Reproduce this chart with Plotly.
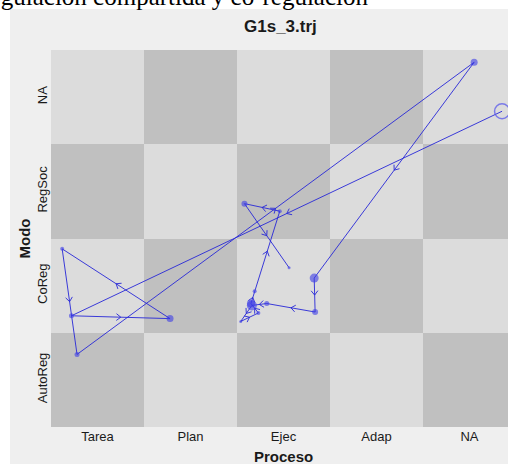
import math
import plotly.graph_objects as go

# Grid categories
procesos = ["Tarea", "Plan", "Ejec", "Adap", "NA"]
modos = ["AutoReg", "CoReg", "RegSoc", "NA"]

# Checkerboard shading of the state space grid (rows: AutoReg -> NA), 1 = dark cell
celdas = [
    [1, 0, 1, 0, 1],
    [0, 1, 0, 1, 0],
    [1, 0, 1, 0, 1],
    [0, 1, 0, 1, 0],
]

# Trajectory: visited states (cell index plus within-cell jitter), in order
tray_x = [5.35, 0.72, 1.78, 0.62, 0.78, 5.05, 3.33, 3.34, 2.82, 2.66, 2.54, 2.73, 2.65, 2.69, 2.96, 2.58, 3.06]
tray_y = [3.85, 1.68, 1.65, 2.39, 1.27, 4.37, 2.08, 1.72, 1.81, 1.79, 1.62, 1.71, 1.81, 1.94, 2.79, 2.87, 2.19]
# Time spent at each visit (drawn as dot diameter)
duracion = [0, 5, 7, 4, 5, 7, 9, 6, 5, 10, 3, 4, 8, 4, 4, 6, 3]

W, H = 508, 464
ML, MR, MT, MB = 51, 0, 50, 37
XR = [0.5, 0.5 + (W - ML - MR) / 93.0]
YR = [0.5, 4.5]
sx = (W - ML - MR) / (XR[1] - XR[0])
sy = (H - MT - MB) / (YR[1] - YR[0])

LINE = "rgba(40,40,215,0.9)"
DOT = "rgba(60,60,230,0.85)"

fig = go.Figure()

fig.add_trace(go.Heatmap(
    z=celdas, x=[1, 2, 3, 4, 5], y=[1, 2, 3, 4],
    colorscale=[[0, "#dcdcdc"], [1, "#c0c0c0"]],
    showscale=False, hoverinfo="skip", zmin=0, zmax=1,
))

# Path
fig.add_trace(go.Scatter(
    x=tray_x, y=tray_y, mode="lines",
    line=dict(color=LINE, width=1), hoverinfo="skip", showlegend=False,
))

# Direction chevrons at segment midpoints
cx, cy = [], []
arm = 5.5
ang = math.radians(38)
for i in range(len(tray_x) - 1):
    mx = (tray_x[i] + tray_x[i + 1]) / 2
    my = (tray_y[i] + tray_y[i + 1]) / 2
    dx = (tray_x[i + 1] - tray_x[i]) * sx
    dy = (tray_y[i + 1] - tray_y[i]) * sy
    n = math.hypot(dx, dy)
    if n == 0:
        continue
    ux, uy = dx / n, dy / n
    for s in (1, -1):
        ca, sa = math.cos(s * ang), math.sin(s * ang)
        bx = -(ux * ca - uy * sa) * arm
        by = -(ux * sa + uy * ca) * arm
        cx += [mx + bx / sx, mx, None]
        cy += [my + by / sy, my, None]
fig.add_trace(go.Scatter(
    x=cx, y=cy, mode="lines", line=dict(color=LINE, width=1),
    hoverinfo="skip", showlegend=False,
))

# Dots sized by duration
fig.add_trace(go.Scatter(
    x=tray_x[1:], y=tray_y[1:], mode="markers",
    marker=dict(size=duracion[1:], color=DOT, line=dict(width=0)),
    hoverinfo="skip", showlegend=False,
))

# Starting state ring
fig.add_trace(go.Scatter(
    x=tray_x[:1], y=tray_y[:1], mode="markers",
    marker=dict(size=15, color="rgba(0,0,0,0)", line=dict(color="rgba(90,90,235,0.75)", width=1.5)),
    hoverinfo="skip", showlegend=False,
))

FONT = "Liberation Sans, Arial, sans-serif"
PW, PH = W - ML - MR, H - MT - MB

fig.update_layout(
    width=W, height=H,
    margin=dict(l=ML, r=MR, t=MT, b=MB, pad=0),
    paper_bgcolor="white",
    plot_bgcolor="#efefef",
    showlegend=False,
    font=dict(family=FONT, size=13, color="#1a1a1a"),
    shapes=[dict(
        type="rect", xref="paper", yref="paper", layer="below",
        x0=-(ML - 10) / PW, x1=1.0, y0=-MB / PH, y1=1 + (MT - 9) / PH,
        fillcolor="#efefef", line=dict(width=0),
    )],
    xaxis=dict(
        range=XR, tickvals=[1, 2, 3, 4, 5], ticktext=procesos,
        showgrid=False, zeroline=False, ticks="", showline=False,
        tickfont=dict(size=13, family=FONT, color="#1a1a1a"),
    ),
    yaxis=dict(
        range=YR, tickvals=[1, 2, 3, 4], ticktext=modos, tickangle=-90,
        showgrid=False, zeroline=False, ticks="", showline=False,
        tickfont=dict(size=13, family=FONT, color="#1a1a1a"),
    ),
    annotations=[
        dict(text="<b>G1s_3.trj</b>", xref="paper", yref="paper",
             x=(280 - ML) / PW, y=1 + (MT - 27) / PH,
             xanchor="center", yanchor="middle", showarrow=False,
             font=dict(size=17, family=FONT, color="#1a1a1a")),
        dict(text="<b>Proceso</b>", xref="paper", yref="paper",
             x=(283 - ML) / PW, y=-(456 - (H - MB)) / PH,
             xanchor="center", yanchor="middle", showarrow=False,
             font=dict(size=15, family=FONT, color="#1a1a1a")),
        dict(text="<b>Modo</b>", xref="paper", yref="paper", textangle=-90,
             x=-(ML - 24) / PW, y=0.5,
             xanchor="center", yanchor="middle", showarrow=False,
             font=dict(size=15, family=FONT, color="#1a1a1a")),
        dict(text="Regulación compartida y co-regulación", xref="paper", yref="paper",
             x=-(ML + 29) / PW, y=1 + (MT - 12) / PH,
             xanchor="left", yanchor="bottom", showarrow=False,
             font=dict(size=25, family="Liberation Serif, Times New Roman, serif", color="black")),
    ],
)

fig.write_html("out.html")
